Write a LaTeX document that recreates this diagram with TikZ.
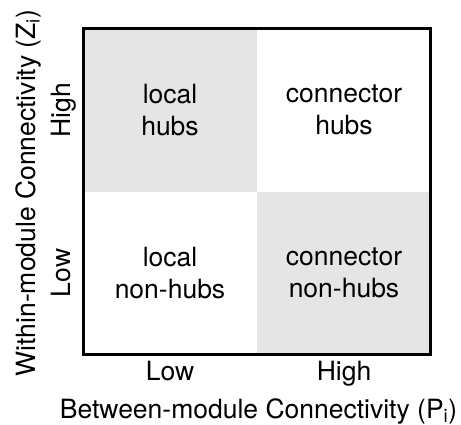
\documentclass[tikz,border=0pt]{standalone}
\usepackage{fontspec}
\setmainfont{TeX Gyre Heros}
\begin{document}
\begin{tikzpicture}[x=1pt,y=-1pt,
  lbl/.style={font=\fontsize{26.5}{31.5}\selectfont, align=center, inner sep=0pt},
  cellfill/.style={fill=gray!20},
  frame/.style={line width=3pt}]
\useasboundingbox (0,0) rectangle (461,425);
% shaded quadrants
\fill[cellfill] (83.5,28.5) rectangle (257,192);
\fill[cellfill] (257,192) rectangle (430.5,354.5);
% outer frame
\draw[frame] (83.5,28.5) rectangle (430.5,354.5);
% quadrant labels
\node[lbl] (lochub) at (170,110) {local\\hubs};
\node[lbl] (conhub) at (344,110) {connector\\hubs};
\node[lbl] (locnon) at (170,273) {local\\non-hubs};
\node[lbl] (connon) at (344,273) {connector\\non-hubs};
% horizontal axis
\node[lbl, anchor=base] (xlow) at (170,380) {Low};
\node[lbl, anchor=base] (xhigh) at (344,380) {High};
\node[lbl, anchor=base] (xtitle) at (258.5,418) {Between-module Connectivity (P\textsubscript{i})};
% vertical axis
\node[lbl, rotate=90, anchor=base] (yhigh) at (70.7,110) {High};
\node[lbl, rotate=90, anchor=base] (ylow) at (70.7,273) {Low};
\node[lbl, rotate=90, anchor=base] (ytitle) at (35,193) {Within-module Connectivity (Z\textsubscript{i})};
\end{tikzpicture}
\end{document}
